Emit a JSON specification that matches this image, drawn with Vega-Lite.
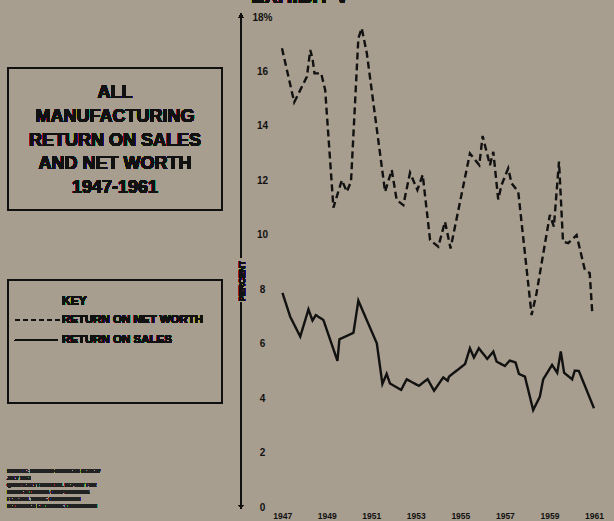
{
  "$schema": "https://vega.github.io/schema/vega-lite/v6.json",
  "autosize": {"type": "none"},
  "padding": {"left": 241, "top": 17, "right": 0, "bottom": 14},
  "width": 373,
  "height": 490,
  "background": "#a89e8f",
  "config": {
    "view": {"stroke": null},
    "font": "Liberation Sans"
  },
  "data": {
    "values": [
      {"t": 1946.99, "v": 16.85, "series": "RETURN ON NET WORTH"},
      {"t": 1947.54, "v": 14.87, "series": "RETURN ON NET WORTH"},
      {"t": 1948.11, "v": 15.81, "series": "RETURN ON NET WORTH"},
      {"t": 1948.26, "v": 16.79, "series": "RETURN ON NET WORTH"},
      {"t": 1948.36, "v": 16.48, "series": "RETURN ON NET WORTH"},
      {"t": 1948.45, "v": 15.93, "series": "RETURN ON NET WORTH"},
      {"t": 1948.75, "v": 15.93, "series": "RETURN ON NET WORTH"},
      {"t": 1948.93, "v": 15.32, "series": "RETURN ON NET WORTH"},
      {"t": 1949.3, "v": 11.0, "series": "RETURN ON NET WORTH"},
      {"t": 1949.68, "v": 12.01, "series": "RETURN ON NET WORTH"},
      {"t": 1949.9, "v": 11.58, "series": "RETURN ON NET WORTH"},
      {"t": 1950.09, "v": 11.95, "series": "RETURN ON NET WORTH"},
      {"t": 1950.42, "v": 17.22, "series": "RETURN ON NET WORTH"},
      {"t": 1950.57, "v": 17.59, "series": "RETURN ON NET WORTH"},
      {"t": 1950.8, "v": 16.67, "series": "RETURN ON NET WORTH"},
      {"t": 1951.62, "v": 11.58, "series": "RETURN ON NET WORTH"},
      {"t": 1951.92, "v": 12.38, "series": "RETURN ON NET WORTH"},
      {"t": 1952.14, "v": 11.28, "series": "RETURN ON NET WORTH"},
      {"t": 1952.44, "v": 11.09, "series": "RETURN ON NET WORTH"},
      {"t": 1952.74, "v": 12.28, "series": "RETURN ON NET WORTH"},
      {"t": 1953.07, "v": 11.65, "series": "RETURN ON NET WORTH"},
      {"t": 1953.31, "v": 12.2, "series": "RETURN ON NET WORTH"},
      {"t": 1953.64, "v": 9.81, "series": "RETURN ON NET WORTH"},
      {"t": 1954.01, "v": 9.56, "series": "RETURN ON NET WORTH"},
      {"t": 1954.31, "v": 10.48, "series": "RETURN ON NET WORTH"},
      {"t": 1954.56, "v": 9.5, "series": "RETURN ON NET WORTH"},
      {"t": 1955.43, "v": 12.99, "series": "RETURN ON NET WORTH"},
      {"t": 1955.85, "v": 12.56, "series": "RETURN ON NET WORTH"},
      {"t": 1956.0, "v": 13.63, "series": "RETURN ON NET WORTH"},
      {"t": 1956.33, "v": 12.56, "series": "RETURN ON NET WORTH"},
      {"t": 1956.48, "v": 13.05, "series": "RETURN ON NET WORTH"},
      {"t": 1956.7, "v": 11.3, "series": "RETURN ON NET WORTH"},
      {"t": 1956.85, "v": 11.83, "series": "RETURN ON NET WORTH"},
      {"t": 1957.15, "v": 12.44, "series": "RETURN ON NET WORTH"},
      {"t": 1957.3, "v": 11.89, "series": "RETURN ON NET WORTH"},
      {"t": 1957.6, "v": 11.58, "series": "RETURN ON NET WORTH"},
      {"t": 1958.2, "v": 7.05, "series": "RETURN ON NET WORTH"},
      {"t": 1958.42, "v": 7.85, "series": "RETURN ON NET WORTH"},
      {"t": 1959.02, "v": 10.73, "series": "RETURN ON NET WORTH"},
      {"t": 1959.2, "v": 10.3, "series": "RETURN ON NET WORTH"},
      {"t": 1959.43, "v": 12.69, "series": "RETURN ON NET WORTH"},
      {"t": 1959.61, "v": 9.75, "series": "RETURN ON NET WORTH"},
      {"t": 1959.84, "v": 9.69, "series": "RETURN ON NET WORTH"},
      {"t": 1960.22, "v": 9.99, "series": "RETURN ON NET WORTH"},
      {"t": 1960.59, "v": 8.71, "series": "RETURN ON NET WORTH"},
      {"t": 1960.81, "v": 8.59, "series": "RETURN ON NET WORTH"},
      {"t": 1960.93, "v": 7.05, "series": "RETURN ON NET WORTH"},
      {"t": 1947.01, "v": 7.87, "series": "RETURN ON SALES"},
      {"t": 1947.36, "v": 6.99, "series": "RETURN ON SALES"},
      {"t": 1947.81, "v": 6.26, "series": "RETURN ON SALES"},
      {"t": 1948.18, "v": 7.26, "series": "RETURN ON SALES"},
      {"t": 1948.36, "v": 6.85, "series": "RETURN ON SALES"},
      {"t": 1948.51, "v": 7.05, "series": "RETURN ON SALES"},
      {"t": 1948.85, "v": 6.87, "series": "RETURN ON SALES"},
      {"t": 1949.48, "v": 5.37, "series": "RETURN ON SALES"},
      {"t": 1949.57, "v": 6.16, "series": "RETURN ON SALES"},
      {"t": 1950.2, "v": 6.4, "series": "RETURN ON SALES"},
      {"t": 1950.42, "v": 7.58, "series": "RETURN ON SALES"},
      {"t": 1951.25, "v": 6.01, "series": "RETURN ON SALES"},
      {"t": 1951.5, "v": 4.52, "series": "RETURN ON SALES"},
      {"t": 1951.69, "v": 4.89, "series": "RETURN ON SALES"},
      {"t": 1951.84, "v": 4.54, "series": "RETURN ON SALES"},
      {"t": 1952.34, "v": 4.3, "series": "RETURN ON SALES"},
      {"t": 1952.59, "v": 4.69, "series": "RETURN ON SALES"},
      {"t": 1953.14, "v": 4.45, "series": "RETURN ON SALES"},
      {"t": 1953.53, "v": 4.7, "series": "RETURN ON SALES"},
      {"t": 1953.82, "v": 4.27, "series": "RETURN ON SALES"},
      {"t": 1954.23, "v": 4.76, "series": "RETURN ON SALES"},
      {"t": 1954.43, "v": 4.64, "series": "RETURN ON SALES"},
      {"t": 1954.49, "v": 4.79, "series": "RETURN ON SALES"},
      {"t": 1955.21, "v": 5.25, "series": "RETURN ON SALES"},
      {"t": 1955.43, "v": 5.83, "series": "RETURN ON SALES"},
      {"t": 1955.61, "v": 5.49, "series": "RETURN ON SALES"},
      {"t": 1955.83, "v": 5.83, "series": "RETURN ON SALES"},
      {"t": 1956.21, "v": 5.44, "series": "RETURN ON SALES"},
      {"t": 1956.48, "v": 5.71, "series": "RETURN ON SALES"},
      {"t": 1956.63, "v": 5.34, "series": "RETURN ON SALES"},
      {"t": 1957.0, "v": 5.18, "series": "RETURN ON SALES"},
      {"t": 1957.22, "v": 5.38, "series": "RETURN ON SALES"},
      {"t": 1957.48, "v": 5.31, "series": "RETURN ON SALES"},
      {"t": 1957.63, "v": 4.89, "series": "RETURN ON SALES"},
      {"t": 1957.9, "v": 4.79, "series": "RETURN ON SALES"},
      {"t": 1958.27, "v": 3.56, "series": "RETURN ON SALES"},
      {"t": 1958.57, "v": 4.05, "series": "RETURN ON SALES"},
      {"t": 1958.72, "v": 4.69, "series": "RETURN ON SALES"},
      {"t": 1959.12, "v": 5.22, "series": "RETURN ON SALES"},
      {"t": 1959.35, "v": 4.93, "series": "RETURN ON SALES"},
      {"t": 1959.51, "v": 5.71, "series": "RETURN ON SALES"},
      {"t": 1959.66, "v": 4.93, "series": "RETURN ON SALES"},
      {"t": 1960.02, "v": 4.69, "series": "RETURN ON SALES"},
      {"t": 1960.14, "v": 5.01, "series": "RETURN ON SALES"},
      {"t": 1960.32, "v": 5.0, "series": "RETURN ON SALES"},
      {"t": 1961.0, "v": 3.63, "series": "RETURN ON SALES"}
    ]
  },
  "layer": [
    {
      "mark": {"type": "line", "color": "#111111", "strokeWidth": 2.4, "strokeJoin": "miter"},
      "encoding": {
        "x": {
          "field": "t", "type": "quantitative",
          "scale": {"domain": [1945.15, 1961.9], "nice": false, "zero": false},
          "axis": {
            "title": null, "values": [1947, 1949, 1951, 1953, 1955, 1957, 1959, 1961],
            "format": "d", "domain": false, "ticks": false, "tickSize": 0, "grid": false,
            "labelPadding": 4, "labelDx": 8, "labelBaseline": "top",
            "labelFont": "Liberation Sans", "labelFontWeight": "bold", "labelFontSize": 8.5,
            "labelColor": "#111111", "labelFlush": false, "labelOverlap": false
          }
        },
        "y": {
          "field": "v", "type": "quantitative",
          "scale": {"domain": [0, 18], "nice": false},
          "axis": {
            "title": null, "values": [0, 2, 4, 6, 8, 10, 12, 14, 16, 18],
            "labelExpr": "datum.value == 18 ? '18%' : datum.label",
            "domain": false, "ticks": false, "tickSize": 0, "grid": false,
            "labelPadding": -21, "labelAlign": "center",
            "labelFont": "Liberation Sans", "labelFontWeight": "bold", "labelFontSize": 10,
            "labelColor": "#111111", "labelFlush": false, "labelOverlap": false
          }
        },
        "strokeDash": {
          "field": "series", "type": "nominal",
          "scale": {"domain": ["RETURN ON NET WORTH", "RETURN ON SALES"], "range": [[7, 4], [1, 0]]},
          "legend": null
        }
      }
    },
    {
      "mark": {"type": "rule", "color": "#111111", "strokeWidth": 1.5},
      "encoding": {
        "x": {"datum": 1945.15, "type": "quantitative"},
        "y": {"datum": 18.0, "type": "quantitative"},
        "y2": {"datum": 9.15}
      }
    },
    {
      "mark": {"type": "rule", "color": "#111111", "strokeWidth": 1.5},
      "encoding": {
        "x": {"datum": 1945.15, "type": "quantitative"},
        "y": {"datum": 7.53, "type": "quantitative"},
        "y2": {"datum": 0.05}
      }
    },
    {
      "mark": {"type": "point", "shape": "triangle-up", "filled": true, "color": "#111111", "size": 18, "opacity": 1},
      "encoding": {
        "x": {"datum": 1945.15, "type": "quantitative"},
        "y": {"datum": 18.05, "type": "quantitative"}
      }
    },
    {
      "mark": {"type": "point", "shape": "triangle-down", "filled": true, "color": "#111111", "size": 18, "opacity": 1},
      "encoding": {
        "x": {"datum": 1945.15, "type": "quantitative"},
        "y": {"datum": 0.0, "type": "quantitative"}
      }
    },
    {
      "mark": {"type": "text", "text": "PERCENT", "angle": 270, "align": "center", "baseline": "middle", "font": "Liberation Sans", "fontWeight": "bold", "fontSize": 8.5, "color": "#111111"},
      "encoding": {
        "x": {"datum": 1945.2, "type": "quantitative"},
        "y": {"datum": 8.3, "type": "quantitative"}
      }
    },
    {
      "mark": {"type": "text", "text": "EXHIBIT V", "align": "center", "baseline": "alphabetic", "font": "Liberation Sans", "fontWeight": "bold", "fontSize": 20, "color": "#111111"},
      "encoding": {
        "x": {"datum": 1947.8, "type": "quantitative"},
        "y": {"datum": 18.5, "type": "quantitative"}
      }
    },
    {
      "mark": {"type": "rect", "filled": false, "stroke": "#111111", "strokeWidth": 1.5},
      "encoding": {
        "x": {"datum": 1934.69, "type": "quantitative"},
        "x2": {"datum": 1944.3},
        "y": {"datum": 16.13, "type": "quantitative"},
        "y2": {"datum": 10.91}
      }
    },
    {
      "mark": {"type": "text", "text": ["ALL", "MANUFACTURING", "RETURN ON SALES", "AND NET WORTH", "1947-1961"], "align": "center", "baseline": "middle", "lineHeight": 23.7, "font": "Liberation Sans", "fontWeight": "bold", "fontSize": 18, "color": "#111111"},
      "encoding": {
        "x": {"datum": 1939.49, "type": "quantitative"},
        "y": {"datum": 15.2, "type": "quantitative"}
      }
    },
    {
      "mark": {"type": "rect", "filled": false, "stroke": "#111111", "strokeWidth": 1.5},
      "encoding": {
        "x": {"datum": 1934.69, "type": "quantitative"},
        "x2": {"datum": 1944.3},
        "y": {"datum": 8.34, "type": "quantitative"},
        "y2": {"datum": 3.82}
      }
    },
    {
      "mark": {"type": "text", "text": "KEY", "align": "left", "baseline": "middle", "font": "Liberation Sans", "fontWeight": "bold", "fontSize": 12, "color": "#111111"},
      "encoding": {
        "x": {"datum": 1937.11, "type": "quantitative"},
        "y": {"datum": 7.57, "type": "quantitative"}
      }
    },
    {
      "mark": {"type": "rule", "color": "#111111", "strokeWidth": 1.5, "strokeDash": [5, 3]},
      "encoding": {
        "x": {"datum": 1935.0, "type": "quantitative"},
        "x2": {"datum": 1937.02},
        "y": {"datum": 6.87, "type": "quantitative"}
      }
    },
    {
      "mark": {"type": "rule", "color": "#111111", "strokeWidth": 1.8},
      "encoding": {
        "x": {"datum": 1935.0, "type": "quantitative"},
        "x2": {"datum": 1936.93},
        "y": {"datum": 6.13, "type": "quantitative"}
      }
    },
    {
      "mark": {"type": "text", "text": "RETURN ON NET WORTH", "align": "left", "baseline": "middle", "font": "Liberation Sans", "fontWeight": "bold", "fontSize": 11.5, "color": "#111111"},
      "encoding": {
        "x": {"datum": 1937.11, "type": "quantitative"},
        "y": {"datum": 6.87, "type": "quantitative"}
      }
    },
    {
      "mark": {"type": "text", "text": "RETURN ON SALES", "align": "left", "baseline": "middle", "font": "Liberation Sans", "fontWeight": "bold", "fontSize": 11.5, "color": "#111111"},
      "encoding": {
        "x": {"datum": 1937.11, "type": "quantitative"},
        "y": {"datum": 6.13, "type": "quantitative"}
      }
    },
    {
      "mark": {"type": "text", "text": ["SOURCE: HARVARD BUSINESS REVIEW", "JULY 1962", "QUARTERLY FINANCIAL REPORT FOR", "MANUFACTURING CORPORATIONS", "FEDERAL TRADE COMMISSION", "SECURITIES EXCHANGE COMMISSION"], "align": "left", "baseline": "middle", "lineHeight": 7, "font": "Liberation Sans", "fontWeight": "bold", "fontSize": 4.8, "color": "#222222"},
      "encoding": {
        "x": {"datum": 1934.64, "type": "quantitative"},
        "y": {"datum": 1.3, "type": "quantitative"}
      }
    }
  ]
}
